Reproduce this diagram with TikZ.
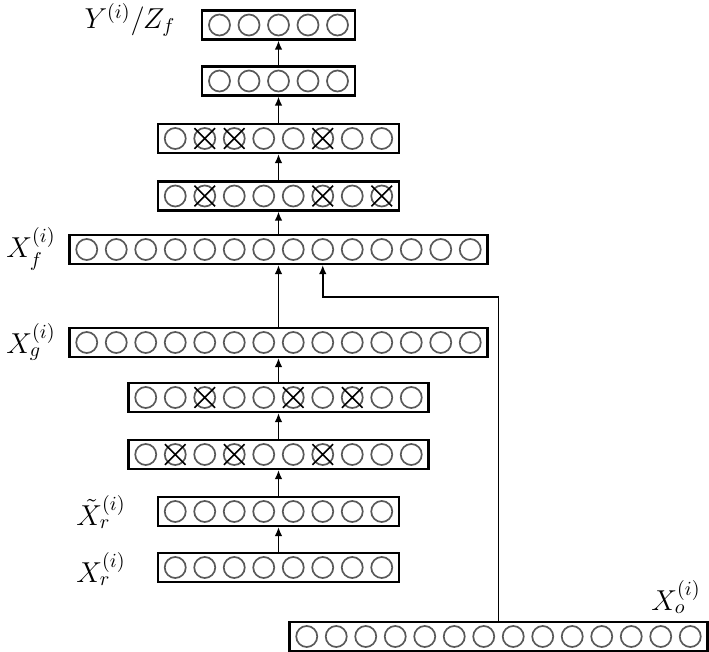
\documentclass[tikz,border=0pt]{standalone}
\usepackage{amsmath, amssymb}
\usetikzlibrary{arrows.meta}
\usetikzlibrary{shapes.misc}

\begin{document}
\begin{tikzpicture}[x=0.5pt,y=-0.5pt,
layer/.style={draw,line width=1.1pt,inner sep=0pt,minimum height=14.5pt},
unit/.style={circle,draw=black!65,line width=0.85pt,inner sep=0pt,minimum size=10.5pt},
dropx/.style={cross out,draw,line width=0.85pt,inner sep=0pt,minimum size=9.5pt},
flow/.style={-{Latex[length=4.5pt,width=3.8pt]},line width=0.8pt},
lab/.style={font=\fontsize{13.8}{16}\selectfont}]
\useasboundingbox (0,0) rectangle (709,652);
\foreach \nm/\cx/\cy/\n in
{
out/278.5/25/5, hid/278.5/81/5,
dfc/278.5/138.5/8, dfb/278.5/196/8,
xf/278.5/249.5/14, xg/278.5/342.5/14,
dcb/278.5/397.5/10, dca/278.5/454.5/10,
xrt/278.5/511.5/8, xr/278.5/567.5/8,
xo/498.5/636.5/14%
}
{
\node[layer,minimum width=\n*14.75pt+2.5pt] (\nm) at (\cx,\cy) {};
\foreach \k in {1,...,\n}
\node[unit] (\nm-\k) at ({\cx+(\k-(\n+1)/2)*29.5},\cy) {};
}
\foreach \nm/\k in
{
dfc/2, dfc/3, dfc/6, dfb/2, dfb/6, dfb/8,
dcb/3, dcb/6, dcb/8, dca/2, dca/4, dca/7%
}
\node[dropx] (x-\nm-\k) at (\nm-\k) {};
\foreach \a/\b in
{
xr/xrt, xrt/dca, dca/dcb, dcb/xg, xg/xf,
xf/dfb, dfb/dfc, dfc/hid, hid/out%
}
\draw[flow] (\a.north) -- (\b.south);
\coordinate (kink) at (322.75,297);
\draw[flow] (xo.north) |- (kink) -- (kink |- xf.south);
\node[lab] (lout) at (130,20) {$Y^{(i)}/Z_f$};
\node[lab] (lxf) at (31,249) {$X_f^{(i)}$};
\node[lab] (lxg) at (31,342) {$X_g^{(i)}$};
\node[lab] (lxrt) at (101,512) {$\tilde{X}_r^{(i)}$};
\node[lab] (lxr) at (101,569) {$X_r^{(i)}$};
\node[lab] (lxo) at (676,597) {$X_o^{(i)}$};
\end{tikzpicture}
\end{document}
